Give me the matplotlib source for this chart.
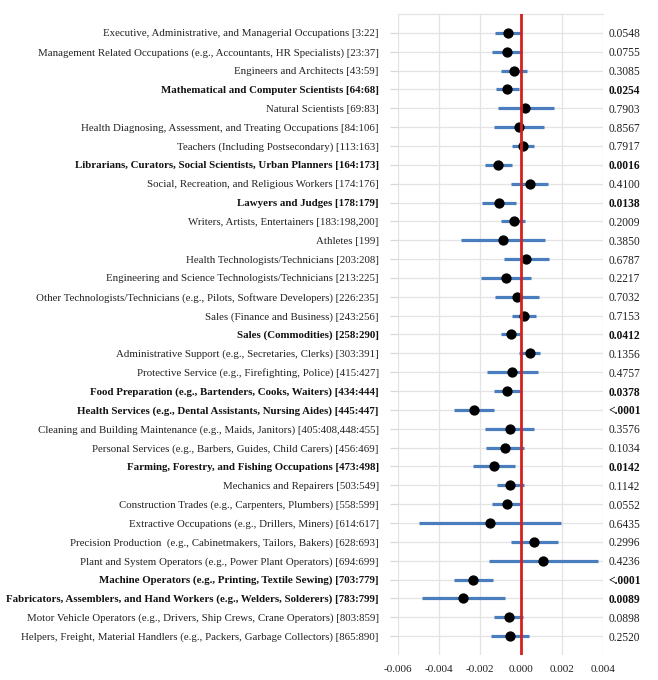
import matplotlib
matplotlib.use("Agg")
import matplotlib.pyplot as plt
import numpy as np

categories = [
    "Executive, Administrative, and Managerial Occupations [3:22]",
    "Management Related Occupations (e.g., Accountants, HR Specialists) [23:37]",
    "Engineers and Architects [43:59]",
    "Mathematical and Computer Scientists [64:68]",
    "Natural Scientists [69:83]",
    "Health Diagnosing, Assessment, and Treating Occupations [84:106]",
    "Teachers (Including Postsecondary) [113:163]",
    "Librarians, Curators, Social Scientists, Urban Planners [164:173]",
    "Social, Recreation, and Religious Workers [174:176]",
    "Lawyers and Judges [178:179]",
    "Writers, Artists, Entertainers [183:198,200]",
    "Athletes [199]",
    "Health Technologists/Technicians [203:208]",
    "Engineering and Science Technologists/Technicians [213:225]",
    "Other Technologists/Technicians (e.g., Pilots, Software Developers) [226:235]",
    "Sales (Finance and Business) [243:256]",
    "Sales (Commodities) [258:290]",
    "Administrative Support (e.g., Secretaries, Clerks) [303:391]",
    "Protective Service (e.g., Firefighting, Police) [415:427]",
    "Food Preparation (e.g., Bartenders, Cooks, Waiters) [434:444]",
    "Health Services (e.g., Dental Assistants, Nursing Aides) [445:447]",
    "Cleaning and Building Maintenance (e.g., Maids, Janitors) [405:408,448:455]",
    "Personal Services (e.g., Barbers, Guides, Child Carers) [456:469]",
    "Farming, Forestry, and Fishing Occupations [473:498]",
    "Mechanics and Repairers [503:549]",
    "Construction Trades (e.g., Carpenters, Plumbers) [558:599]",
    "Extractive Occupations (e.g., Drillers, Miners) [614:617]",
    "Precision Production  (e.g., Cabinetmakers, Tailors, Bakers) [628:693]",
    "Plant and System Operators (e.g., Power Plant Operators) [694:699]",
    "Machine Operators (e.g., Printing, Textile Sewing) [703:779]",
    "Fabricators, Assemblers, and Hand Workers (e.g., Welders, Solderers) [783:799]",
    "Motor Vehicle Operators (e.g., Drivers, Ship Crews, Crane Operators) [803:859]",
    "Helpers, Freight, Material Handlers (e.g., Packers, Garbage Collectors) [865:890]",
]

estimate = [-0.00065, -0.00070, -0.00034, -0.00067, 0.00021, -0.00008, 0.00010,
            -0.00114, 0.00041, -0.00106, -0.00037, -0.00090, 0.00024, -0.00076,
            -0.00020, 0.00013, -0.00050, 0.00042, -0.00044, -0.00070, -0.00228,
            -0.00055, -0.00080, -0.00133, -0.00052, -0.00070, -0.00153, 0.00063,
            0.00109, -0.00233, -0.00281, -0.00060, -0.00054]

ci_low = [-0.00127, -0.00141, -0.00098, -0.00124, -0.00115, -0.00130, -0.00044,
          -0.00177, -0.00047, -0.00189, -0.00098, -0.00293, -0.00083, -0.00197,
          -0.00125, -0.00046, -0.00099, -0.00008, -0.00167, -0.00133, -0.00327,
          -0.00174, -0.00172, -0.00236, -0.00120, -0.00140, -0.00499, -0.00049,
          -0.00155, -0.00328, -0.00484, -0.00130, -0.00145]

ci_high = [0.00000, 0.00006, 0.00031, -0.00010, 0.00158, 0.00110, 0.00063,
           -0.00046, 0.00130, -0.00024, 0.00021, 0.00115, 0.00135, 0.00046,
           0.00088, 0.00073, -0.00005, 0.00093, 0.00080, -0.00003, -0.00130,
           0.00065, 0.00016, -0.00029, 0.00013, -0.00002, 0.00194, 0.00179,
           0.00377, -0.00137, -0.00078, 0.00008, 0.00039]

p_values = ["0.0548", "0.0755", "0.3085", "0.0254", "0.7903", "0.8567", "0.7917",
            "0.0016", "0.4100", "0.0138", "0.2009", "0.3850", "0.6787", "0.2217",
            "0.7032", "0.7153", "0.0412", "0.1356", "0.4757", "0.0378", "<.0001",
            "0.3576", "0.1034", "0.0142", "0.1142", "0.0552", "0.6435", "0.2996",
            "0.4236", "<.0001", "0.0089", "0.0898", "0.2520"]

significant = [False, False, False, True, False, False, False, True, False, True,
               False, False, False, False, False, False, True, False, False, True,
               True, False, False, True, False, False, False, False, False, True,
               True, False, False]

x_ticks = [-0.006, -0.004, -0.002, 0.000, 0.002, 0.004]
x_tick_labels = ["-0.006", "-0.004", "-0.002", "0.000", "0.002", "0.004"]

plt.rcParams['font.family'] = ['Liberation Serif', 'DejaVu Serif']

fig = plt.figure(figsize=(6.58, 6.80), dpi=100)
ax = fig.add_axes([0.605, 0.0368, 0.3116, 0.9426])

rows = np.arange(1, len(categories) + 1)

ax.hlines(rows, ci_low, ci_high, color="#4a7dbe", lw=2.3, zorder=3)
ax.plot(estimate, rows, "o", color="black", ms=6.4, zorder=4)
ax.axvline(0, color="#d62020", lw=2.0, zorder=5)

ax.set_xlim(-0.006, 0.004)
ax.set_ylim(34, 0)
ax.set_xticks(x_ticks)
ax.set_xticklabels(x_tick_labels)
ax.set_yticks(rows)
ax.set_yticklabels(categories)

ax.grid(True, color="#e3e3e3", lw=0.9, zorder=0)
ax.set_axisbelow(True)
for s in ["left", "right", "bottom"]:
    ax.spines[s].set_visible(False)
ax.spines["top"].set_color("#e3e3e3")
ax.spines["top"].set_linewidth(0.9)

ax.tick_params(axis="y", length=6, width=0.9, color="#d8d8d8", pad=8, labelsize=7.8,
               labelcolor="#222222")
ax.tick_params(axis="x", length=0, pad=7, labelsize=8.0, labelcolor="#222222")

for lbl, sig in zip(ax.get_yticklabels(), significant):
    if sig:
        lbl.set_fontweight("bold")
        lbl.set_color("#111111")

ax2 = ax.twinx()
ax2.set_ylim(34, 0)
ax2.set_yticks(rows)
ax2.set_yticklabels(p_values)
ax2.tick_params(axis="y", length=0, pad=4, labelsize=8.3, labelcolor="#222222")
for s in ax2.spines.values():
    s.set_visible(False)
for lbl, sig in zip(ax2.get_yticklabels(), significant):
    if sig:
        lbl.set_fontweight("bold")
        lbl.set_color("#111111")

fig.savefig("out.png", dpi=100, facecolor="white")
